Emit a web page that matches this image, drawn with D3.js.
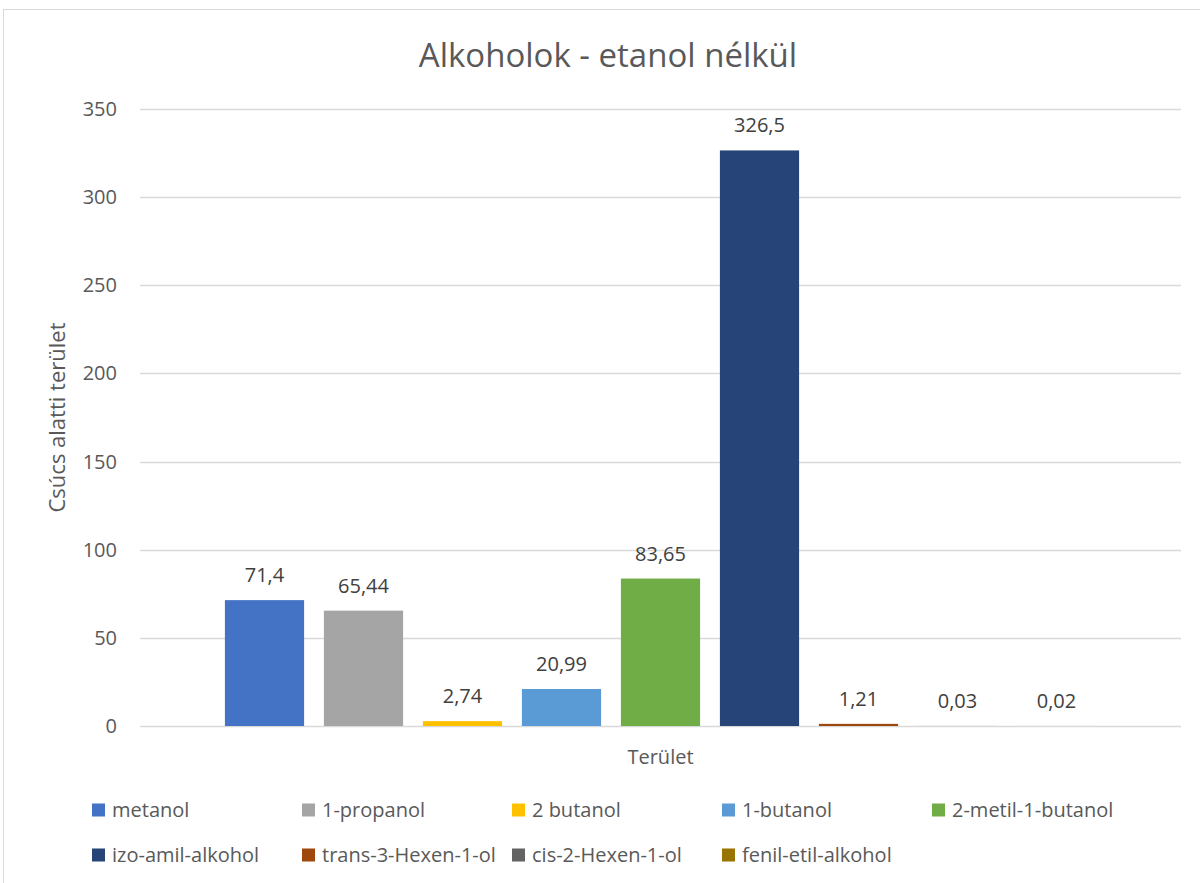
<!DOCTYPE html>
<html>
<head>
<meta charset="utf-8">
<script src="https://cdn.jsdelivr.net/npm/d3@7"></script>
<style>
  html, body { margin: 0; padding: 0; background: #fff; }
  svg { display: block; font-family: "Open Sans", "Noto Sans", sans-serif; }
</style>
</head>
<body>
<svg id="chart" width="1200" height="883"></svg>
<script>
"use strict";

const title = "Alkoholok - etanol nélkül"
const yTitle = "Csúcs alatti terület"
const category = "Terület"
const series = ["metanol", "1-propanol", "2 butanol", "1-butanol", "2-metil-1-butanol",
	"izo-amil-alkohol", "trans-3-Hexen-1-ol", "cis-2-Hexen-1-ol", "fenil-etil-alkohol"]
const values = [71.4, 65.44, 2.74, 20.99, 83.65, 326.5, 1.21, 0.03, 0.02]
const labels = ["71,4", "65,44", "2,74", "20,99", "83,65", "326,5", "1,21", "0,03", "0,02"]
const colors = ["#4472C4", "#A5A5A5", "#FFC000", "#5B9BD5", "#70AD47",
	"#264478", "#9E480E", "#636363", "#997300"]
const yTicks = [0, 50, 100, 150, 200, 250, 300, 350]

;(function() {
	const svg = d3.select("#chart")
	const textCol = "#595959"

	// chart frame
	svg.append("rect")
		.attr("x", 3.5).attr("y", 9.5).attr("width", 1210).attr("height", 890)
		.attr("fill", "none").attr("stroke", "#d9d9d9").attr("stroke-width", 1)

	const plot = { left: 140, right: 1181, top: 109, bottom: 726 }

	const y = d3.scaleLinear().domain([0, 350]).range([plot.bottom, plot.top])
	const x = d3.scaleBand().domain(series)
		.range([215, 1106]).paddingInner(0.2).paddingOuter(0.1)

	// gridlines
	svg.append("g").selectAll("line").data(yTicks).enter().append("line")
		.attr("x1", plot.left).attr("x2", plot.right)
		.attr("y1", d => Math.round(y(d)) + 0.5).attr("y2", d => Math.round(y(d)) + 0.5)
		.attr("stroke", "#d9d9d9").attr("stroke-width", 1.5)

	// y tick labels
	svg.append("g").selectAll("text").data(yTicks).enter().append("text")
		.attr("x", 117).attr("y", d => y(d))
		.attr("dy", "0.35em").attr("text-anchor", "end")
		.attr("font-size", 20).attr("fill", textCol)
		.text(d => d)

	// bars
	svg.append("g").selectAll("rect").data(values).enter().append("rect")
		.attr("x", (d, i) => x(series[i]))
		.attr("width", x.bandwidth())
		.attr("y", d => y(d))
		.attr("height", d => y(0) - y(d))
		.attr("fill", (d, i) => colors[i])

	// value labels
	svg.append("g").selectAll("text").data(values).enter().append("text")
		.attr("x", (d, i) => x(series[i]) + x.bandwidth() / 2)
		.attr("y", d => y(d) - 25)
		.attr("dy", "0.35em").attr("text-anchor", "middle")
		.attr("font-size", 20).attr("fill", "#404040")
		.text((d, i) => labels[i])

	// title
	svg.append("text")
		.attr("x", 608).attr("y", 55).attr("dy", "0.35em")
		.attr("text-anchor", "middle")
		.attr("font-size", 33).attr("fill", textCol)
		.text(title)

	// axis titles
	svg.append("text")
		.attr("transform", `translate(57, ${(plot.top + plot.bottom) / 2}) rotate(-90)`)
		.attr("dy", "0.35em").attr("text-anchor", "middle")
		.attr("font-size", 22).attr("fill", textCol)
		.text(yTitle)

	svg.append("text")
		.attr("x", (plot.left + plot.right) / 2).attr("y", 757).attr("dy", "0.35em")
		.attr("text-anchor", "middle")
		.attr("font-size", 20).attr("fill", textCol)
		.text(category)

	// legend
	const cols = 5, colW = 210, legX = 92, rowY = [810, 855]
	const leg = svg.append("g").selectAll("g").data(series).enter().append("g")
		.attr("transform", (d, i) => `translate(${legX + (i % cols) * colW}, ${rowY[Math.floor(i / cols)]})`)
	leg.append("rect")
		.attr("x", 0).attr("y", -6.5).attr("width", 13).attr("height", 13)
		.attr("fill", (d, i) => colors[i])
	leg.append("text")
		.attr("x", 20).attr("y", 0).attr("dy", "0.35em")
		.attr("font-size", 20).attr("fill", textCol)
		.text(d => d)
})()
</script>
</body>
</html>
